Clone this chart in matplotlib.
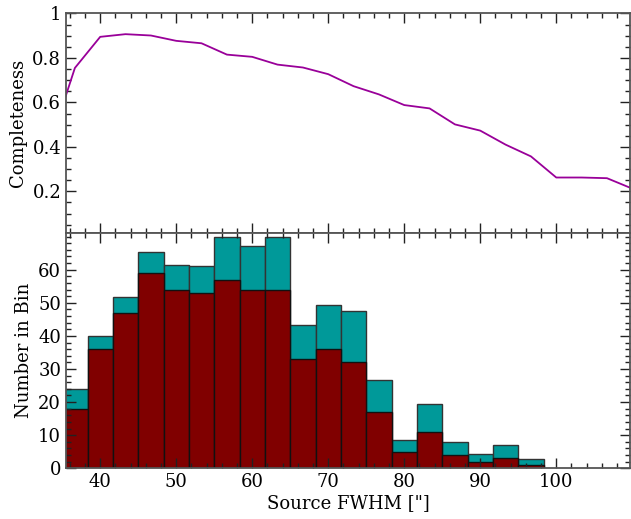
import numpy as np
import matplotlib
matplotlib.use("Agg")
import matplotlib.pyplot as plt
from matplotlib.ticker import MultipleLocator, FixedLocator, FixedFormatter

plt.rcParams['font.family'] = ['DejaVu Serif']

# --- data ---
comp_x = [35.0, 36.67, 40.0, 43.33, 46.67, 50.0, 53.33, 56.67, 60.0, 63.33, 66.67,
          70.0, 73.33, 76.67, 80.0, 83.33, 86.67, 90.0, 93.33, 96.67, 100.0,
          103.33, 106.67, 110.0]
comp_y = [0.58, 0.755, 0.895, 0.907, 0.901, 0.877, 0.866, 0.815, 0.805, 0.770, 0.757,
          0.727, 0.673, 0.636, 0.588, 0.573, 0.501, 0.473, 0.41, 0.357, 0.262,
          0.262, 0.259, 0.212]

bin_edges = [35.0, 38.33, 41.67, 45.0, 48.33, 51.67, 55.0, 58.33, 61.67, 65.0,
             68.33, 71.67, 75.0, 78.33, 81.67, 85.0, 88.33, 91.67, 95.0, 98.33]
corrected = [23.9, 40.1, 51.8, 65.4, 61.5, 61.0, 69.8, 67.1, 69.8, 43.4,
             49.4, 47.5, 26.7, 8.4, 19.3, 8.0, 4.2, 7.1, 2.7]
observed = [18, 36, 47, 59, 54, 53, 57, 54, 54, 33,
            36, 32, 17, 5, 11, 4, 2, 3, 1]

xticks = [40, 50, 60, 70, 80, 90, 100]
ytop_ticks = [0.2, 0.4, 0.6, 0.8, 1.0]
ytop_labels = ['0.2', '0.4', '0.6', '0.8', '1']
ybot_ticks = [0, 10, 20, 30, 40, 50, 60]

# --- figure ---
fig = plt.figure(figsize=(6.31, 5.19), dpi=100)
L, W = 66 / 631, 564 / 631
ax1 = fig.add_axes([L, (519 - 233.3) / 519, W, 219.8 / 519])
ax2 = fig.add_axes([L, (519 - 468.3) / 519, W, 235.0 / 519])

spine_col = '#555555'
fs = 13

def style(ax):
    for s in ax.spines.values():
        s.set_color(spine_col)
        s.set_linewidth(1.3)
    ax.tick_params(which='both', direction='in', top=True, right=True,
                   color='#222222', labelsize=fs, width=1.0)
    ax.tick_params(which='major', length=7)
    ax.tick_params(which='minor', length=3.5)
    ax.xaxis.set_major_locator(FixedLocator(xticks))
    ax.xaxis.set_minor_locator(MultipleLocator(2))

# top panel
ax1.plot(comp_x, comp_y, color='#990099', lw=1.3)
ax1.set_xlim(35.5, 109.7)
ax1.set_ylim(0.011, 1.0)
style(ax1)
ax1.yaxis.set_major_locator(FixedLocator(ytop_ticks))
ax1.yaxis.set_major_formatter(FixedFormatter(ytop_labels))
ax1.yaxis.set_minor_locator(MultipleLocator(0.05))
ax1.tick_params(labelbottom=False)
ax1.set_ylabel('Completeness', fontsize=fs)

# bottom panel
left = bin_edges[:-1]
w = np.diff(bin_edges)
ax2.bar(left, corrected, width=w, align='edge', color='#009999',
        edgecolor='#333333', linewidth=1.0)
ax2.bar(left, observed, width=w, align='edge', color='#800000',
        edgecolor='#111111', linewidth=1.0)
ax2.set_xlim(35.5, 109.7)
ax2.set_ylim(0, 71)
style(ax2)
ax2.yaxis.set_major_locator(FixedLocator(ybot_ticks))
ax2.yaxis.set_minor_locator(MultipleLocator(2))
ax2.set_ylabel('Number in Bin', fontsize=fs)
ax2.set_xlabel('Source FWHM ["]', fontsize=fs, labelpad=2)

fig.savefig('out.png', dpi=100)
